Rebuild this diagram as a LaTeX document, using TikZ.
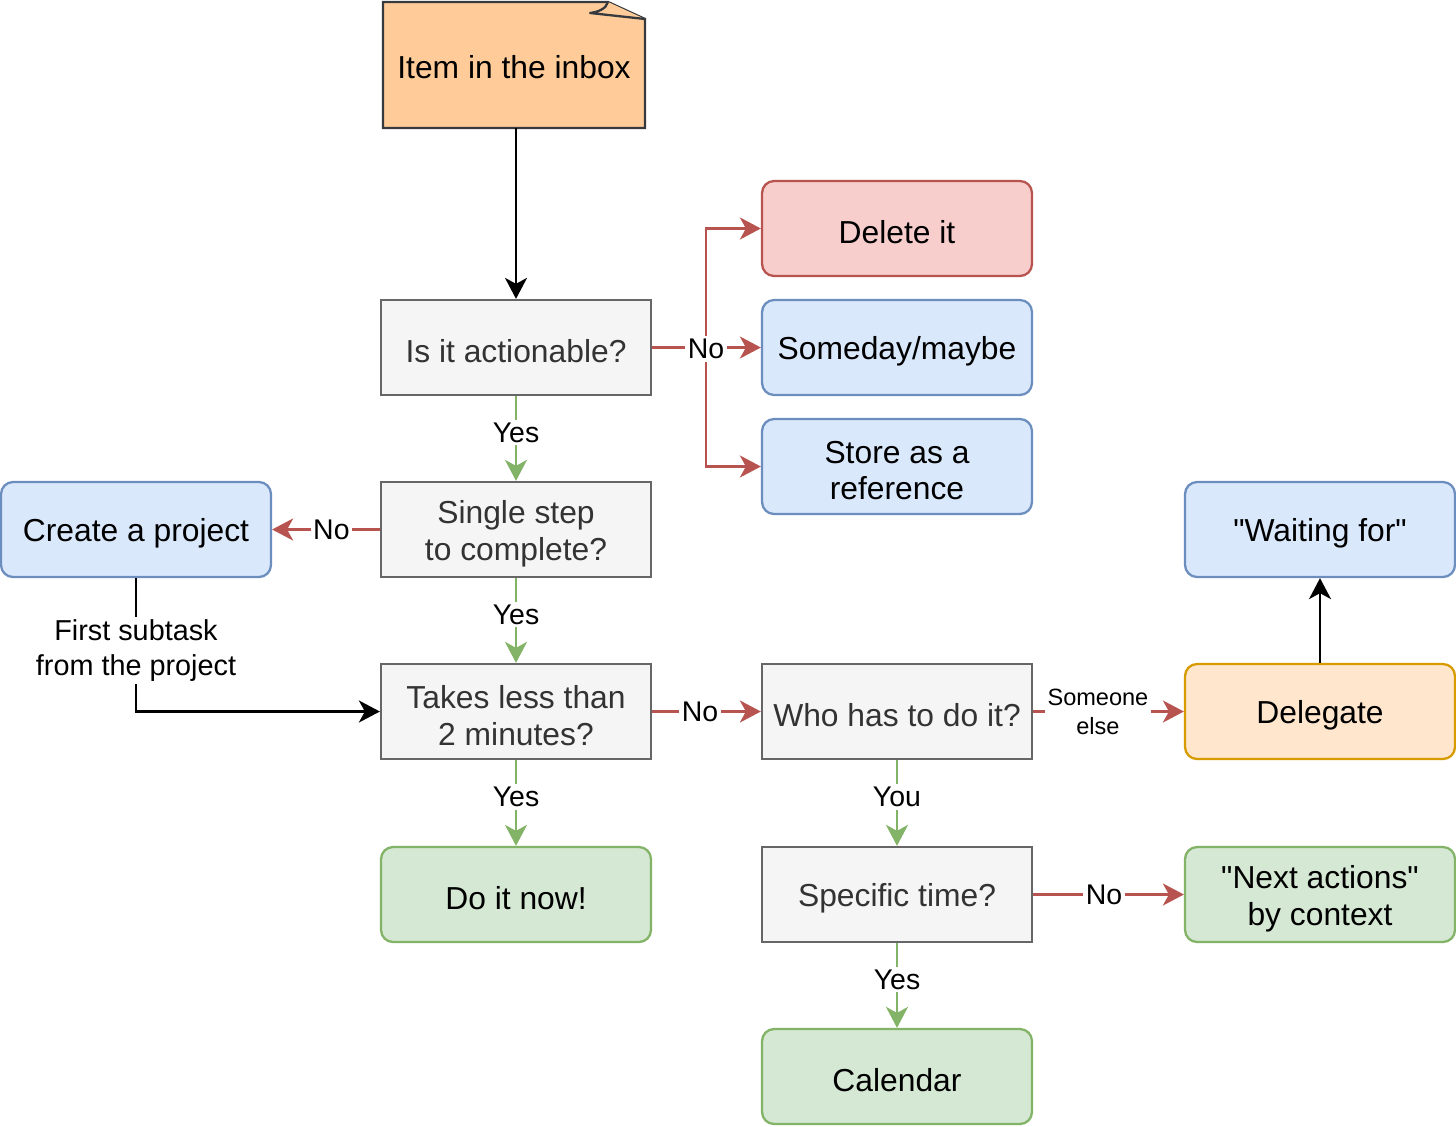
\documentclass[tikz,border=0pt]{standalone}
\usepackage{fontspec}
\setmainfont{Liberation Sans}[Ligatures=TeXOff]
\usetikzlibrary{arrows.meta}
\definecolor{grayfill}{HTML}{F5F5F5}
\definecolor{graydraw}{HTML}{666666}
\definecolor{graytext}{HTML}{333333}
\definecolor{bluefill}{HTML}{DAE8FC}
\definecolor{bluedraw}{HTML}{6C8EBF}
\definecolor{redfill}{HTML}{F8CECC}
\definecolor{reddraw}{HTML}{B85450}
\definecolor{greenfill}{HTML}{D5E8D4}
\definecolor{greendraw}{HTML}{82B366}
\definecolor{orangefill}{HTML}{FFE6CC}
\definecolor{orangedraw}{HTML}{D79B00}
\definecolor{notefill}{HTML}{FFCC99}
\definecolor{notedraw}{HTML}{36393D}
\tikzset{
  box/.style={minimum width=5.4cm, minimum height=1.9cm, line width=1.3pt, inner sep=0pt},
  boxtext/.style={align=center, font=\fontsize{18.1}{21}\selectfont, inner sep=0pt, text=black},
  graytext/.style={boxtext, text=graytext},
  graybox/.style={box, rectangle, draw=graydraw, fill=grayfill},
  bluebox/.style={box, rectangle, rounded corners=0.24cm, draw=bluedraw, fill=bluefill},
  redbox/.style={box, rectangle, rounded corners=0.24cm, draw=reddraw, fill=redfill},
  greenbox/.style={box, rectangle, rounded corners=0.24cm, draw=greendraw, fill=greenfill},
  orangebox/.style={box, rectangle, rounded corners=0.24cm, draw=orangedraw, fill=orangefill},
  conn/.style={line width=1.4pt, -{Stealth[length=0.42cm, width=0.44cm, inset=0.12cm]}},
  redline/.style={conn, draw=reddraw},
  greenline/.style={conn, draw=greendraw},
  blackline/.style={conn, draw=black},
  lbl/.style={fill=white, inner sep=1.5pt, text=black, font=\fontsize{16.2}{19}\selectfont, align=center},
}
% box macro: shape style, name, position, text style, text
\newcommand{\bx}[5]{%
  \node[#1] (#2) at (#3) {};
  \node[#4] (#2-t) at ([yshift=-0.08cm]#2.center) {#5};
}
\begin{document}
\begin{tikzpicture}[x=0.02cm, y=-0.02cm]
\useasboundingbox (0,0) rectangle (1456,1126);
% note
\node[minimum width=5.24cm, minimum height=2.52cm, inner sep=0pt] (inbox) at (514,65) {};
\draw[line width=1.3pt, draw=notedraw, fill=notefill] (383,2) -- (608,2) -- (645,19) -- (645,128) -- (383,128) -- cycle;
\draw[line width=1.3pt, draw=notedraw, fill=notefill, line join=round] (608,2) .. controls (606,9) and (598,12) .. (590,13) -- (645,19);
\node[boxtext] (inboxtext) at (514,67) {Item in the inbox};

\bx{graybox}{act}{516,347.5}{graytext}{Is it actionable?}
\bx{graybox}{single}{516,529.5}{graytext}{Single step\\to complete?}
\bx{graybox}{takes}{516,711.5}{graytext}{Takes less than\\2 minutes?}
\bx{greenbox}{doit}{516,894.5}{boxtext}{Do it now!}
\bx{redbox}{delete}{897,228.5}{boxtext}{Delete it}
\bx{bluebox}{someday}{897,347.5}{boxtext}{Someday/maybe}
\bx{bluebox}{store}{897,466.5}{boxtext}{Store as a\\reference}
\bx{bluebox}{create}{136,529.5}{boxtext}{Create a project}
\bx{graybox}{who}{897,711.5}{graytext}{Who has to do it?}
\bx{graybox}{specific}{897,894.5}{graytext}{Specific time?}
\bx{greenbox}{calendar}{897,1076.5}{boxtext}{Calendar}
\bx{bluebox}{waiting}{1320,529.5}{boxtext}{"Waiting for"}
\bx{orangebox}{delegate}{1320,711.5}{boxtext}{Delegate}
\bx{greenbox}{next}{1320,894.5}{boxtext}{"Next actions"\\by context}

% edges
\draw[blackline] (inbox.south -| 516,0) -- (act.north);
\coordinate (split) at (706,347.5);
\draw[line width=1.4pt, draw=reddraw] (act.east) -- (split);
\draw[redline] (split) |- (delete.west);
\draw[redline] (split) |- (store.west);
\draw[redline] (split) -- (someday.west);
\node[lbl, fill=white] (nolbl) at (706,349) {No};

\draw[greenline] (act.south) -- node[lbl, pos=0.43] {Yes} (single.north);
\draw[greenline] (single.south) -- node[lbl, pos=0.43] {Yes} (takes.north);
\draw[greenline] (takes.south) -- node[lbl, pos=0.43] {Yes} (doit.north);
\draw[redline] (single.west) -- node[lbl, pos=0.45] {No} (create.west -| create.east);
\draw[blackline] (create.south) |- node[lbl, pos=0.27, font=\fontsize{16.4}{19.8}\selectfont] {First subtask\\from the project} (takes.west);
\draw[redline] (takes.west -| takes.east) -- node[lbl, pos=0.44] {No} (who.west);
\draw[redline] (who.east) -- node[lbl, pos=0.43, font=\fontsize{13.4}{16.4}\selectfont] {Someone\\else} (delegate.west);
\draw[greenline] (who.south) -- node[lbl, pos=0.43] {You} (specific.north);
\draw[blackline] (delegate.north) -- (waiting.south);
\draw[redline] (specific.east) -- node[lbl, pos=0.47] {No} (next.west);
\draw[greenline] (specific.south) -- node[lbl, pos=0.43] {Yes} (calendar.north);
\end{tikzpicture}
\end{document}
